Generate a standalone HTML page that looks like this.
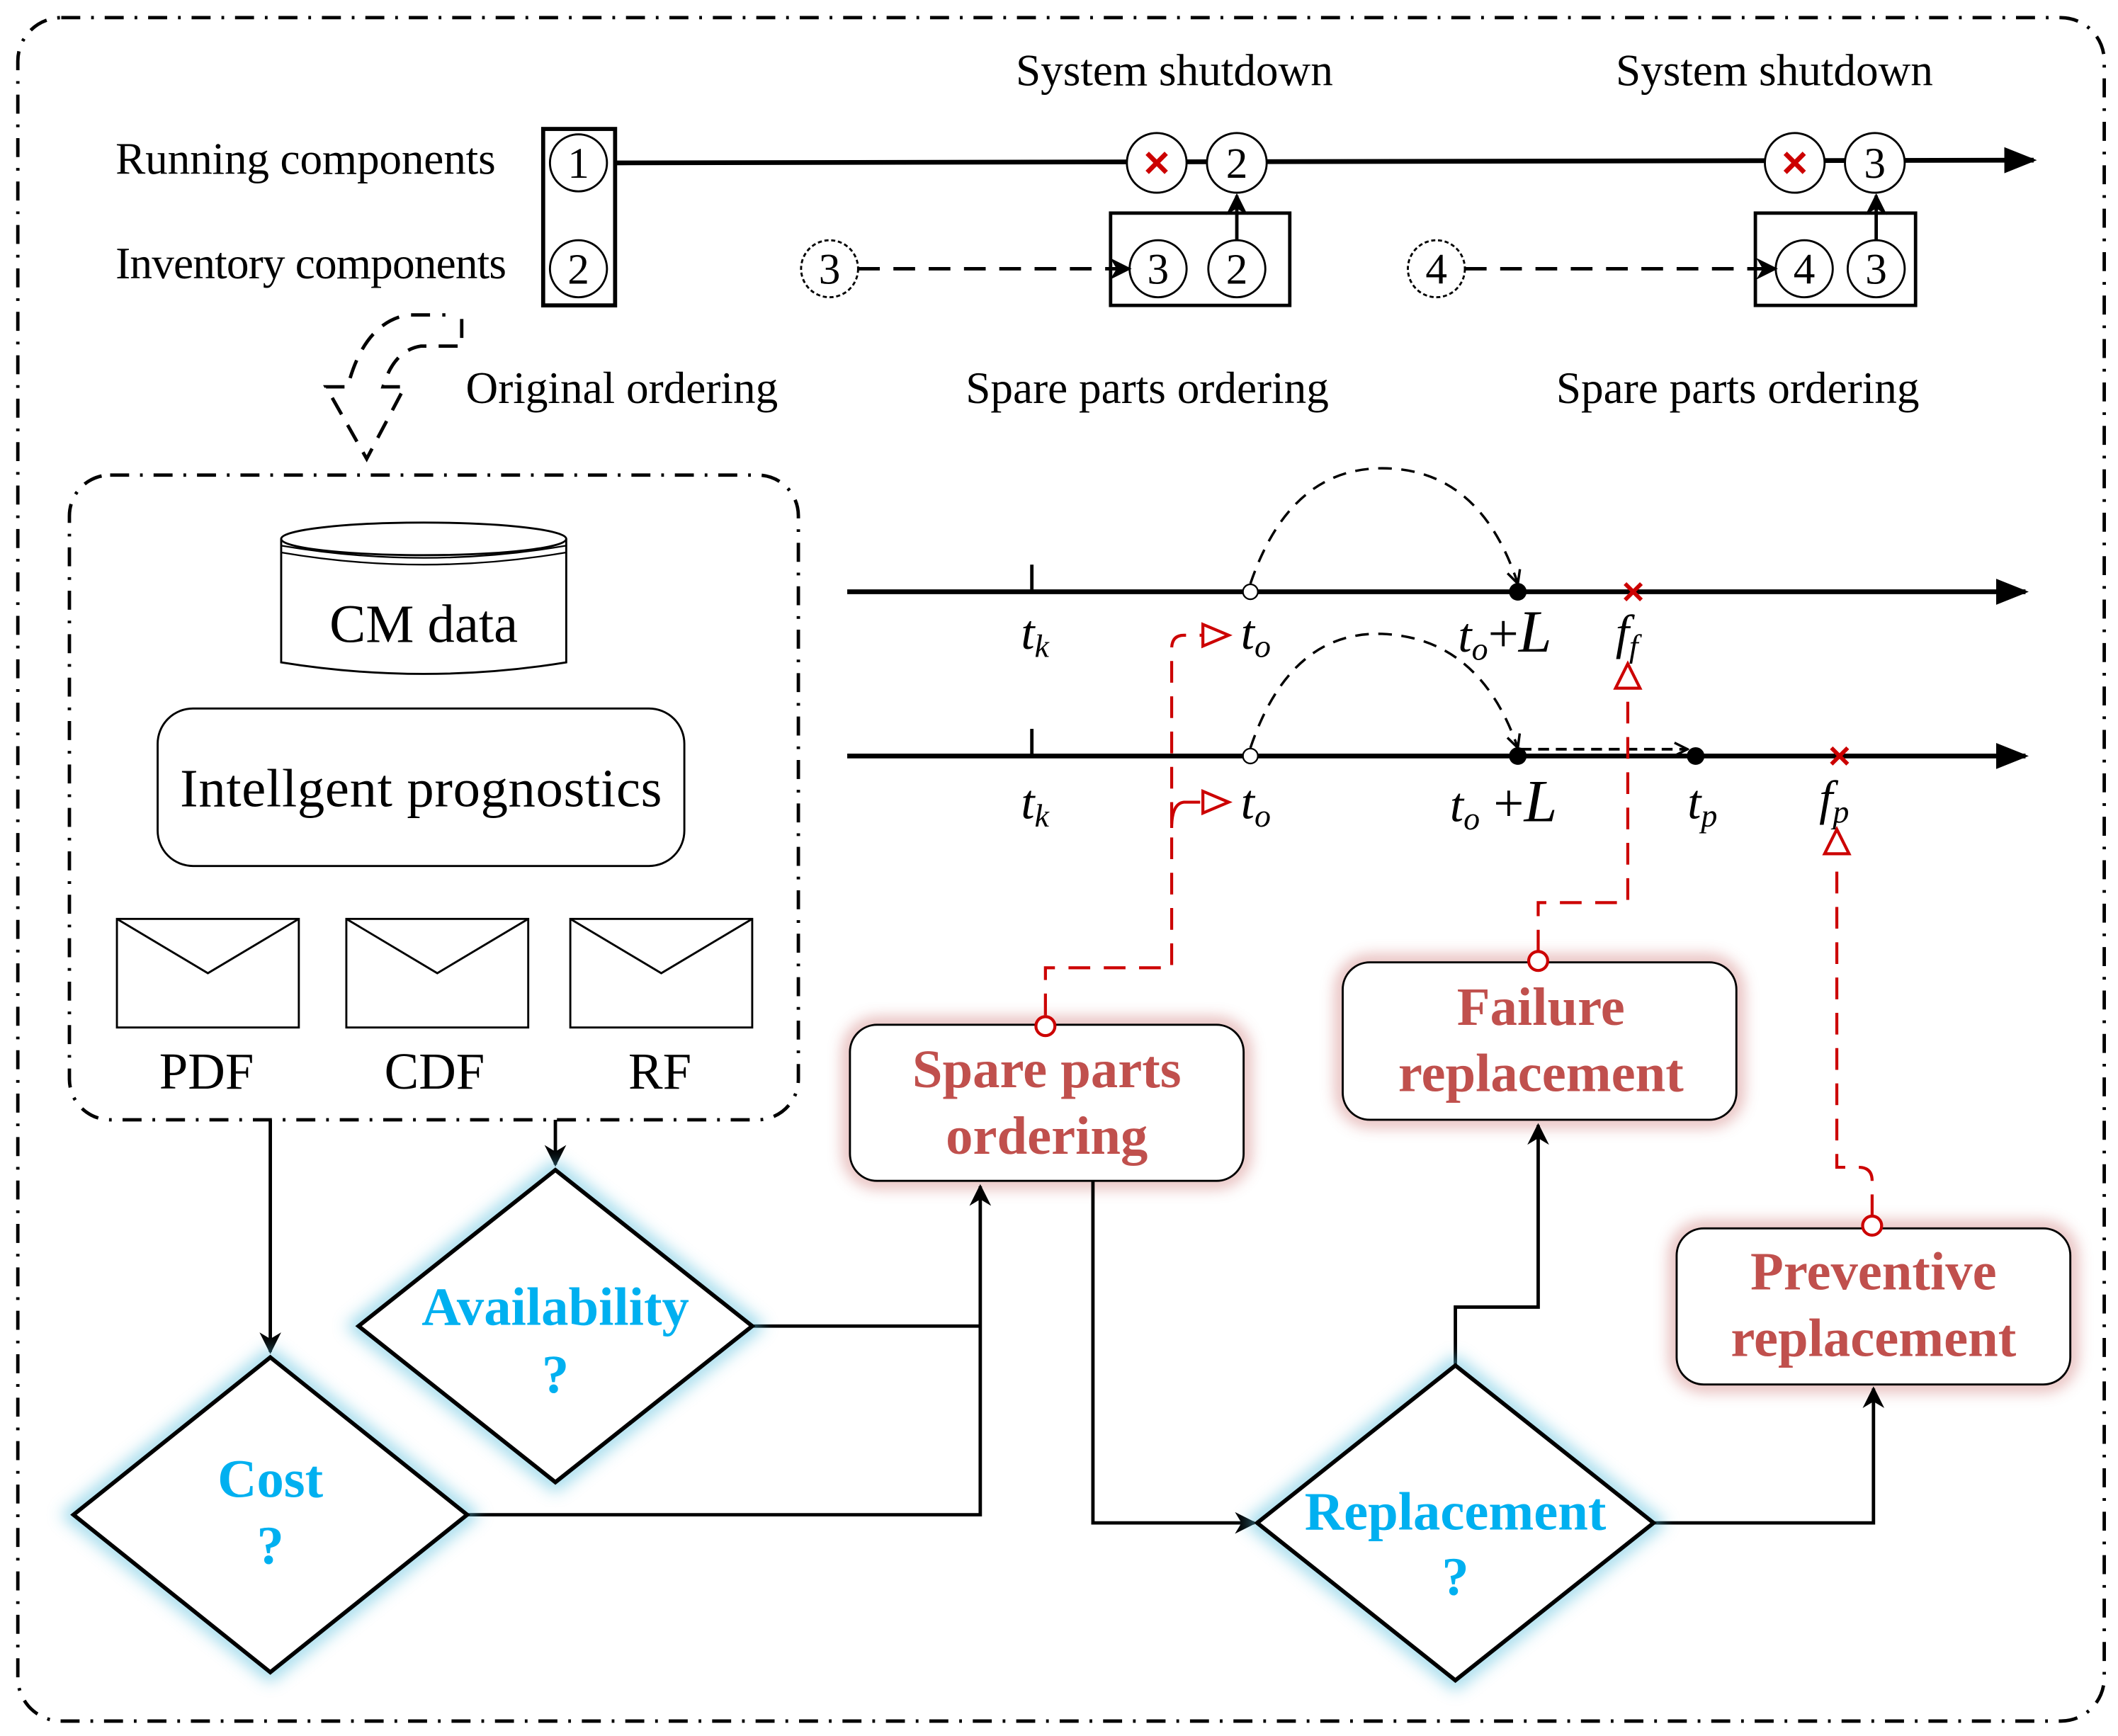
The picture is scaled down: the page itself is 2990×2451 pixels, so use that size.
<!DOCTYPE html>
<html><head><meta charset="utf-8"><style>html,body{margin:0;padding:0;background:#fff}svg{display:block}</style></head>
<body>
<svg width="2990" height="2451" viewBox="0 0 1560 1279" xmlns="http://www.w3.org/2000/svg" font-family="Liberation Serif, serif">
<defs>
<filter id="gb" x="-30%" y="-30%" width="160%" height="160%"><feGaussianBlur stdDeviation="6"/></filter>
<marker id="ab" viewBox="0 0 10 10" refX="9" refY="5" markerWidth="16" markerHeight="16" orient="auto" markerUnits="userSpaceOnUse"><path d="M0,0 L10,5 L0,10 L3,5 z" fill="#000"/></marker>
<marker id="ab2" viewBox="0 0 10 10" refX="9" refY="5" markerWidth="24" markerHeight="24" orient="auto" markerUnits="userSpaceOnUse"><path d="M0,1 L10,5 L0,9 z" fill="#000"/></marker>
<marker id="ao" viewBox="0 0 10 10" refX="9" refY="5" markerWidth="12" markerHeight="12" orient="auto" markerUnits="userSpaceOnUse"><path d="M1,1 L9,5 L1,9" fill="none" stroke="#000" stroke-width="1.5"/></marker>
</defs>
<rect width="1560" height="1279" fill="#fff"/>
<rect x="13" y="13" width="1537" height="1255" rx="32" fill="none" stroke="#000" stroke-width="2.5" stroke-dasharray="14,8,2,8"/>
<g font-size="33">
<text x="85" y="128" textLength="280">Running components</text>
<text x="85" y="205" textLength="288">Inventory components</text>
<text x="865" y="63" text-anchor="middle">System shutdown</text>
<text x="1307" y="63" text-anchor="middle">System shutdown</text>
<text x="343" y="297">Original ordering</text>
<text x="845" y="297" text-anchor="middle">Spare parts ordering</text>
<text x="1280" y="297" text-anchor="middle">Spare parts ordering</text>
</g>
<line x1="453" y1="120" x2="1498" y2="118" stroke="#000" stroke-width="3.5" marker-end="url(#ab2)"/>
<rect x="400" y="95" width="53" height="130" fill="#fff" stroke="#000" stroke-width="3"/>
<g fill="#fff" stroke="#000" stroke-width="1.5">
<circle cx="426" cy="120" r="21"/><circle cx="426" cy="198" r="21"/>
<circle cx="852" cy="120" r="22"/><circle cx="911" cy="120" r="22"/>
<circle cx="1322" cy="120" r="22"/><circle cx="1381" cy="120" r="22"/>
</g>
<rect x="818" y="157" width="132" height="68" fill="#fff" stroke="#000" stroke-width="2.5"/>
<rect x="1293" y="157" width="118" height="68" fill="#fff" stroke="#000" stroke-width="2.5"/>
<g fill="#fff" stroke="#000" stroke-width="1.5">
<circle cx="853" cy="198" r="21"/><circle cx="911" cy="198" r="21"/>
<circle cx="1329" cy="198" r="21"/><circle cx="1382" cy="198" r="21"/>
<circle cx="611" cy="198" r="21" stroke-dasharray="3,2"/><circle cx="1058" cy="198" r="21" stroke-dasharray="3,2"/>
</g>
<line x1="911" y1="177" x2="911" y2="144" stroke="#000" stroke-width="2.5" marker-end="url(#ab)"/>
<line x1="1382" y1="177" x2="1382" y2="144" stroke="#000" stroke-width="2.5" marker-end="url(#ab)"/>
<line x1="632" y1="198" x2="832" y2="198" stroke="#000" stroke-width="2.5" stroke-dasharray="16,10" marker-end="url(#ab)"/>
<line x1="1079" y1="198" x2="1308" y2="198" stroke="#000" stroke-width="2.5" stroke-dasharray="16,10" marker-end="url(#ab)"/>
<g stroke="#c00" stroke-width="3.5"><path d="M845,113 L859,127 M859,113 L845,127"/><path d="M1315,113 L1329,127 M1329,113 L1315,127"/></g>
<g font-size="32" text-anchor="middle">
<text x="426" y="131">1</text><text x="426" y="209">2</text><text x="911" y="131">2</text><text x="1381" y="131">3</text>
<text x="853" y="209">3</text><text x="911" y="209">2</text><text x="1329" y="209">4</text><text x="1382" y="209">3</text>
<text x="611" y="209">3</text><text x="1058" y="209">4</text>
</g>
<path d="M340,235 L340,255 L310,255 Q290,258 282,285 L298,285 L270,338 L240,285 L256,285 Q268,238 300,232 L328,232" fill="none" stroke="#000" stroke-width="2.5" stroke-dasharray="14,9"/>
<rect x="51" y="350" width="537" height="475" rx="30" fill="none" stroke="#000" stroke-width="2.5" stroke-dasharray="14,8,2,8"/>
<path d="M207,397 L207,488 Q312,505 417,488 L417,397" fill="#fff" stroke="#000" stroke-width="1.5"/>
<ellipse cx="312" cy="397" rx="105" ry="12" fill="#fff" stroke="#000" stroke-width="1.5"/>
<path d="M207,402 Q312,420 417,402 M207,407 Q312,425 417,407" fill="none" stroke="#000" stroke-width="1.2"/>
<text x="312" y="473" font-size="40" text-anchor="middle">CM data</text>
<rect x="116" y="522" width="388" height="116" rx="26" fill="#fff" stroke="#000" stroke-width="1.5"/>
<text x="310" y="594" font-size="40" text-anchor="middle" textLength="355">Intellgent prognostics</text>
<g fill="#fff" stroke="#000" stroke-width="1.5">
<rect x="86" y="677" width="134" height="80"/><path d="M86,677 L153,717 L220,677" fill="none"/>
<rect x="255" y="677" width="134" height="80"/><path d="M255,677 L322,717 L389,677" fill="none"/>
<rect x="420" y="677" width="134" height="80"/><path d="M420,677 L487,717 L554,677" fill="none"/>
</g>
<g font-size="38" text-anchor="middle"><text x="152" y="802">PDF</text><text x="320" y="802">CDF</text><text x="486" y="802">RF</text></g>
<line x1="624" y1="436" x2="1492" y2="436" stroke="#000" stroke-width="3.5" marker-end="url(#ab2)"/>
<line x1="624" y1="557" x2="1492" y2="557" stroke="#000" stroke-width="3.5" marker-end="url(#ab2)"/>
<line x1="760" y1="416" x2="760" y2="436" stroke="#000" stroke-width="2.5"/>
<line x1="760" y1="537" x2="760" y2="557" stroke="#000" stroke-width="2.5"/>
<path d="M921,430 Q950,345 1018,345 Q1090,345 1118,430" fill="none" stroke="#000" stroke-width="1.8" stroke-dasharray="10,7" marker-end="url(#ao)"/>
<path d="M921,551 Q950,465 1018,467 Q1090,470 1118,551" fill="none" stroke="#000" stroke-width="1.8" stroke-dasharray="10,7" marker-end="url(#ao)"/>
<line x1="1120" y1="552" x2="1243" y2="552" stroke="#000" stroke-width="2" stroke-dasharray="8,5" marker-end="url(#ao)"/>
<circle cx="921" cy="436" r="5.5" fill="#fff" stroke="#000" stroke-width="1.2"/>
<circle cx="921" cy="557" r="5.5" fill="#fff" stroke="#000" stroke-width="1.2"/>
<circle cx="1118" cy="436" r="6.5" fill="#000"/><circle cx="1118" cy="557" r="6.5" fill="#000"/><circle cx="1249" cy="557" r="6.5" fill="#000"/>
<g stroke="#c00" stroke-width="3"><path d="M1197,430 L1209,442 M1209,430 L1197,442"/><path d="M1349,551 L1361,563 M1361,551 L1349,563"/></g>
<g font-size="36" font-style="italic">
<text x="752" y="478">t<tspan font-size="24" dy="6">k</tspan></text>
<text x="914" y="478">t<tspan font-size="24" dy="6">o</tspan></text>
<text x="1074" y="480">t<tspan font-size="24" dy="6">o</tspan><tspan dy="-6" font-style="normal" font-size="40">+</tspan><tspan font-size="44">L</tspan></text>
<text x="1190" y="478">f<tspan font-size="24" dy="6">f</tspan></text>
<text x="752" y="603">t<tspan font-size="24" dy="6">k</tspan></text>
<text x="914" y="603">t<tspan font-size="24" dy="6">o</tspan></text>
<text x="1068" y="605">t<tspan font-size="24" dy="6">o</tspan><tspan dy="-6" font-style="normal" font-size="40"> +</tspan><tspan font-size="44">L</tspan></text>
<text x="1243" y="603">t<tspan font-size="24" dy="6">p</tspan></text>
<text x="1340" y="600">f<tspan font-size="24" dy="6">p</tspan></text>
</g>
<g fill="none" stroke="#c00" stroke-width="2.2">
<path d="M770,748 L770,713 L863,713 L863,478 Q863,468 872,468 L885,468" stroke-dasharray="16,10"/>
<path d="M863,610 Q863,592 872,591 L884,591" />
<path d="M886,460 L905,468 L886,476 Z"/>
<path d="M886,583 L905,591 L886,599 Z"/>
<path d="M1133,701 L1133,665 L1199,665 L1199,510" stroke-dasharray="16,10"/>
<path d="M1199,489 L1190,507 L1208,507 Z"/>
<path d="M1379,896 L1379,870 Q1379,860 1369,860 L1353,860 L1353,640" stroke-dasharray="16,10"/>
<path d="M1353,611 L1344,629 L1362,629 Z"/>
</g>
<g fill="none" stroke="#c0504d" stroke-width="8" opacity="0.55" filter="url(#gb)">
<rect x="626" y="755" width="290" height="115" rx="20"/><rect x="989" y="709" width="290" height="116" rx="20"/><rect x="1235" y="905" width="290" height="115" rx="20"/>
</g>
<g fill="#fff" stroke="#000" stroke-width="1.5">
<rect x="626" y="755" width="290" height="115" rx="20"/><rect x="989" y="709" width="290" height="116" rx="20"/><rect x="1235" y="905" width="290" height="115" rx="20"/>
</g>
<circle cx="770" cy="756" r="7" fill="#fff" stroke="#c00" stroke-width="2.2"/><circle cx="1133" cy="708" r="7" fill="#fff" stroke="#c00" stroke-width="2.2"/><circle cx="1379" cy="903" r="7" fill="#fff" stroke="#c00" stroke-width="2.2"/>
<g font-size="40" font-weight="bold" fill="#c0504d" text-anchor="middle">
<text x="771" y="801">Spare parts</text><text x="771" y="850">ordering</text>
<text x="1135" y="755">Failure</text><text x="1135" y="804">replacement</text>
<text x="1380" y="950">Preventive</text><text x="1380" y="999">replacement</text>
</g>
<g fill="none" stroke="#000" stroke-width="2.5">
<line x1="199" y1="825" x2="199" y2="996" marker-end="url(#ab)"/>
<line x1="409" y1="825" x2="409" y2="858" marker-end="url(#ab)"/>
<path d="M553,977 L722,977 M344,1116 L722,1116 L722,874" marker-end="url(#ab)"/>
<path d="M805,870 L805,1122 L924,1122" marker-end="url(#ab)"/>
<path d="M1072,1006 L1072,963 L1133,963 L1133,829" marker-end="url(#ab)"/>
<path d="M1218,1122 L1380,1122 L1380,1023" marker-end="url(#ab)"/>
</g>
<g fill="none" stroke="#5bc0de" stroke-width="12" opacity="0.6" filter="url(#gb)">
<path d="M409,862 L554,977 L409,1092 L264,977 Z"/><path d="M199,1000 L344,1116 L199,1232 L54,1116 Z"/><path d="M1072,1006 L1218,1122 L1072,1238 L926,1122 Z"/>
</g>
<g fill="#fff" stroke="#000" stroke-width="3">
<path d="M409,862 L554,977 L409,1092 L264,977 Z"/><path d="M199,1000 L344,1116 L199,1232 L54,1116 Z"/><path d="M1072,1006 L1218,1122 L1072,1238 L926,1122 Z"/>
</g>
<g font-size="40" font-weight="bold" fill="#00b0f0" text-anchor="middle">
<text x="409" y="976">Availability</text><text x="409" y="1026">?</text>
<text x="199" y="1103">Cost</text><text x="199" y="1152">?</text>
<text x="1072" y="1127">Replacement</text><text x="1072" y="1175">?</text>
</g>
</svg>
</body></html>
